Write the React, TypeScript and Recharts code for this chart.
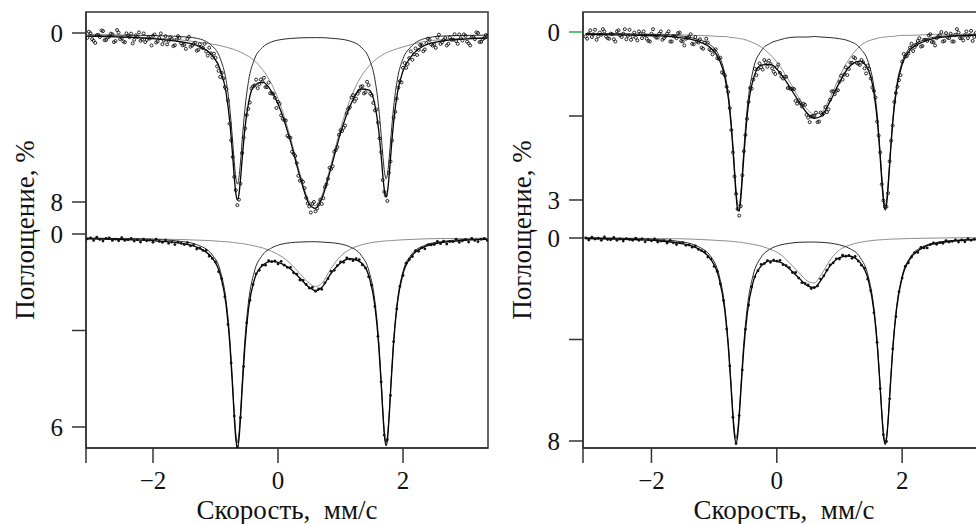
import React from 'react';
import { ComposedChart, Line, XAxis, YAxis, ReferenceArea } from 'recharts';

// Velocity grid (mm/s) for the fitted curves
const CV = [-3.05, -2.6, -2.2, -1.85, -1.55, -1.3, -1.05, -0.92, -0.83, -0.77, -0.73, -0.7, -0.675, -0.65, -0.625, -0.6, -0.57, -0.53, -0.47, -0.38, -0.25, -0.1, 0.05, 0.2, 0.35, 0.5, 0.6, 0.7, 0.85, 1.0, 1.15, 1.33, 1.46, 1.55, 1.61, 1.65, 1.68, 1.705, 1.73, 1.755, 1.78, 1.81, 1.85, 1.91, 2.0, 2.13, 2.35, 2.6, 2.9, 3.35];

// Velocity channels (mm/s) of the measured points
const DV = [-3.05, -3, -2.95, -2.9, -2.85, -2.8, -2.75, -2.7, -2.65, -2.6, -2.55, -2.5, -2.45, -2.4, -2.35, -2.3, -2.25, -2.2, -2.15, -2.1, -2.05, -2, -1.95, -1.9, -1.85, -1.8, -1.75, -1.7, -1.65, -1.6, -1.55, -1.5, -1.45, -1.4, -1.35, -1.3, -1.25, -1.2, -1.15, -1.1, -1.05, -1, -0.95, -0.9, -0.85, -0.8, -0.75, -0.7, -0.65, -0.6, -0.55, -0.5, -0.45, -0.4, -0.35, -0.3, -0.25, -0.2, -0.15, -0.1, -0.05, 0, 0.05, 0.1, 0.15, 0.2, 0.25, 0.3, 0.35, 0.4, 0.45, 0.5, 0.55, 0.6, 0.65, 0.7, 0.75, 0.8, 0.85, 0.9, 0.95, 1, 1.05, 1.1, 1.15, 1.2, 1.25, 1.3, 1.35, 1.4, 1.45, 1.5, 1.55, 1.6, 1.65, 1.7, 1.75, 1.8, 1.85, 1.9, 1.95, 2, 2.05, 2.1, 2.15, 2.2, 2.25, 2.3, 2.35, 2.4, 2.45, 2.5, 2.55, 2.6, 2.65, 2.7, 2.75, 2.8, 2.85, 2.9, 2.95, 3, 3.05, 3.1, 3.15, 3.2, 3.25, 3.3, 3.35];
const DV2 = [-3.025, -2.975, -2.925, -2.875, -2.825, -2.775, -2.725, -2.675, -2.625, -2.575, -2.525, -2.475, -2.425, -2.375, -2.325, -2.275, -2.225, -2.175, -2.125, -2.075, -2.025, -1.975, -1.925, -1.875, -1.825, -1.775, -1.725, -1.675, -1.625, -1.575, -1.525, -1.475, -1.425, -1.375, -1.325, -1.275, -1.225, -1.175, -1.125, -1.075, -1.025, -0.975, -0.925, -0.875, -0.825, -0.775, -0.725, -0.675, -0.625, -0.575, -0.525, -0.475, -0.425, -0.375, -0.325, -0.275, -0.225, -0.175, -0.125, -0.075, -0.025, 0.025, 0.075, 0.125, 0.175, 0.225, 0.275, 0.325, 0.375, 0.425, 0.475, 0.525, 0.575, 0.625, 0.675, 0.725, 0.775, 0.825, 0.875, 0.925, 0.975, 1.025, 1.075, 1.125, 1.175, 1.225, 1.275, 1.325, 1.375, 1.425, 1.475, 1.525, 1.575, 1.625, 1.675, 1.725, 1.775, 1.825, 1.875, 1.925, 1.975, 2.025, 2.075, 2.125, 2.175, 2.225, 2.275, 2.325, 2.375, 2.425, 2.475, 2.525, 2.575, 2.625, 2.675, 2.725, 2.775, 2.825, 2.875, 2.925, 2.975, 3.025, 3.075, 3.125, 3.175, 3.225, 3.275, 3.325];

// ---- Top-left spectrum (absorption, %) ----
const TL_A = [0.09, 0.10, 0.11, 0.13, 0.17, 0.25, 0.62, 1.24, 2.25, 3.62, 4.97, 6.11, 6.85, 7.15, 6.85, 6.11, 4.97, 3.62, 2.25, 1.26, 0.69, 0.42, 0.31, 0.26, 0.23, 0.22, 0.22, 0.22, 0.25, 0.29, 0.38, 0.67, 1.23, 2.19, 3.50, 4.81, 5.89, 6.61, 6.90, 6.61, 5.89, 4.81, 3.50, 2.19, 1.22, 0.65, 0.26, 0.15, 0.12, 0.10];
const TL_B = [0.13, 0.16, 0.20, 0.26, 0.33, 0.42, 0.53, 0.60, 0.67, 0.72, 0.75, 0.79, 0.81, 0.84, 0.87, 0.90, 0.94, 1.01, 1.11, 1.31, 1.72, 2.43, 3.50, 4.96, 6.64, 7.96, 8.17, 7.70, 6.19, 4.53, 3.18, 2.06, 1.55, 1.29, 1.15, 1.08, 1.02, 0.98, 0.94, 0.91, 0.88, 0.84, 0.80, 0.74, 0.66, 0.55, 0.40, 0.32, 0.26, 0.22];
const TL_T = [0.15, 0.18, 0.23, 0.31, 0.42, 0.59, 1.07, 1.76, 2.84, 4.25, 5.64, 6.81, 7.58, 7.91, 7.64, 6.93, 5.84, 4.54, 3.28, 2.49, 2.33, 2.78, 3.73, 5.13, 6.79, 8.10, 8.30, 7.84, 6.36, 4.74, 3.48, 2.65, 2.70, 3.40, 4.58, 5.80, 6.84, 7.51, 7.76, 7.44, 6.69, 5.56, 4.22, 2.85, 1.80, 1.12, 0.58, 0.39, 0.30, 0.24];
const TL_D = [0.23, 0.01, 0.37, 0.10, 0.19, -0.09, 0.33, 0.17, 0.06, 0.38, -0.02, 0.24, 0.44, 0.12, 0.03, 0.32, 0.19, 0.37, 0.02, 0.33, 0.26, 0.13, 0.45, 0.23, 0.53, 0.15, 0.37, 0.28, 0.58, 0.15, 0.48, 0.56, 0.28, 0.65, 0.52, 0.84, 0.53, 0.71, 0.88, 0.70, 1.16, 1.17, 1.79, 1.89, 2.56, 3.20, 5.08, 6.81, 8.15, 7.13, 4.95, 3.88, 3.29, 2.53, 2.21, 2.42, 2.30, 2.56, 2.35, 2.86, 3.07, 3.26, 3.90, 4.13, 4.87, 4.96, 5.72, 6.16, 6.99, 7.05, 7.80, 8.21, 8.09, 8.44, 8.12, 8.09, 7.30, 6.90, 6.44, 5.62, 5.40, 4.60, 4.49, 3.80, 3.51, 2.94, 3.11, 2.73, 2.52, 2.81, 2.47, 2.95, 3.66, 4.24, 5.64, 7.52, 7.95, 6.08, 4.00, 3.11, 2.28, 1.65, 1.65, 1.19, 1.27, 0.73, 0.80, 0.57, 0.78, 0.27, 0.54, 0.55, 0.21, 0.52, 0.33, 0.59, 0.21, 0.31, 0.38, 0.07, 0.36, 0.13, 0.49, 0.20, 0.29, 0.00, 0.42, 0.24, 0.13];
const TL_D2 = [-0.06, 0.29, 0.47, 0.09, -0.12, 0.34, 0.21, 0.03, 0.43, -0.14, 0.29, 0.40, 0.02, 0.20, 0.49, 0.11, -0.03, 0.31, 0.43, 0.22, 0.59, 0.07, 0.40, 0.02, 0.36, 0.54, 0.21, 0.62, 0.32, 0.23, 0.58, 0.75, 0.18, 0.60, 0.46, 0.80, 0.68, 0.51, 1.07, 0.96, 0.98, 1.58, 2.08, 2.15, 2.66, 4.29, 5.87, 7.44, 7.89, 5.68, 4.52, 3.59, 2.62, 2.48, 2.61, 2.20, 2.12, 2.56, 2.85, 2.88, 3.55, 3.35, 4.06, 4.14, 4.93, 5.62, 5.82, 6.76, 6.97, 7.34, 8.06, 8.50, 8.00, 8.31, 7.90, 7.82, 7.16, 6.38, 6.31, 5.54, 4.82, 4.64, 4.38, 3.60, 3.05, 3.24, 2.87, 2.54, 2.86, 2.31, 2.87, 3.31, 3.62, 4.99, 6.96, 7.69, 6.61, 5.09, 3.73, 2.59, 2.34, 1.42, 1.47, 0.87, 1.01, 1.04, 0.57, 0.86, 0.48, 0.32, 0.60, 0.70, 0.08, 0.44, 0.24, 0.51, 0.32, 0.06, 0.51, 0.25, 0.07, 0.41, 0.59, 0.19, -0.03, 0.43, 0.29, 0.10];

// ---- Bottom-left spectrum ----
const BL_A = [0.13, 0.14, 0.15, 0.18, 0.23, 0.33, 0.65, 1.17, 2.08, 3.30, 4.52, 5.54, 6.21, 6.48, 6.21, 5.54, 4.52, 3.30, 2.08, 1.18, 0.66, 0.43, 0.32, 0.27, 0.25, 0.24, 0.24, 0.25, 0.27, 0.31, 0.40, 0.66, 1.18, 2.08, 3.30, 4.52, 5.54, 6.21, 6.48, 6.21, 5.54, 4.52, 3.30, 2.08, 1.17, 0.65, 0.35, 0.24, 0.18, 0.15];
const BL_B = [0.13, 0.14, 0.15, 0.16, 0.17, 0.19, 0.21, 0.23, 0.24, 0.25, 0.26, 0.27, 0.27, 0.28, 0.29, 0.29, 0.30, 0.31, 0.33, 0.37, 0.43, 0.54, 0.69, 0.92, 1.23, 1.53, 1.63, 1.53, 1.07, 0.69, 0.48, 0.34, 0.28, 0.25, 0.24, 0.23, 0.22, 0.22, 0.21, 0.21, 0.21, 0.20, 0.20, 0.19, 0.18, 0.17, 0.15, 0.14, 0.14, 0.13];
const BL_T = [0.15, 0.17, 0.19, 0.23, 0.29, 0.41, 0.75, 1.29, 2.21, 3.44, 4.67, 5.69, 6.37, 6.65, 6.39, 5.72, 4.71, 3.51, 2.30, 1.43, 0.98, 0.85, 0.91, 1.09, 1.37, 1.66, 1.76, 1.66, 1.22, 0.90, 0.77, 0.89, 1.35, 2.23, 3.43, 4.64, 5.65, 6.32, 6.58, 6.31, 5.63, 4.61, 3.39, 2.16, 1.24, 0.71, 0.39, 0.27, 0.21, 0.17];
const BL_D = [0.15, 0.12, 0.20, 0.10, 0.17, 0.22, 0.14, 0.12, 0.20, 0.16, 0.21, 0.11, 0.20, 0.18, 0.14, 0.22, 0.18, 0.25, 0.16, 0.21, 0.19, 0.26, 0.16, 0.23, 0.26, 0.19, 0.29, 0.25, 0.33, 0.25, 0.29, 0.33, 0.27, 0.37, 0.34, 0.47, 0.44, 0.51, 0.51, 0.69, 0.76, 0.87, 1.17, 1.39, 1.95, 2.81, 4.01, 5.66, 6.62, 5.71, 4.12, 2.76, 2.06, 1.57, 1.24, 1.13, 0.97, 0.97, 0.83, 0.86, 0.84, 0.93, 0.85, 0.97, 1.04, 1.04, 1.21, 1.25, 1.43, 1.44, 1.57, 1.68, 1.66, 1.78, 1.71, 1.72, 1.52, 1.39, 1.16, 1.13, 0.98, 0.87, 0.88, 0.74, 0.78, 0.83, 0.77, 0.80, 0.96, 1.06, 1.33, 1.59, 2.25, 3.18, 4.60, 6.25, 6.40, 5.02, 3.35, 2.33, 1.63, 1.29, 0.91, 0.80, 0.70, 0.52, 0.54, 0.43, 0.46, 0.34, 0.34, 0.33, 0.23, 0.30, 0.22, 0.31, 0.23, 0.24, 0.16, 0.26, 0.21, 0.17, 0.25, 0.14, 0.20, 0.24, 0.16, 0.14, 0.20];

// ---- Top-right spectrum ----
const TR_A = [0.03, 0.03, 0.04, 0.05, 0.07, 0.12, 0.24, 0.43, 0.74, 1.14, 1.58, 2.01, 2.42, 2.82, 3.08, 3.11, 2.82, 2.17, 1.34, 0.69, 0.34, 0.20, 0.14, 0.10, 0.09, 0.09, 0.08, 0.09, 0.10, 0.12, 0.16, 0.29, 0.54, 0.98, 1.57, 2.16, 2.65, 2.98, 3.11, 2.98, 2.65, 2.16, 1.57, 0.98, 0.54, 0.28, 0.14, 0.08, 0.06, 0.04];
const TR_B = [0.03, 0.03, 0.04, 0.04, 0.05, 0.06, 0.07, 0.08, 0.08, 0.09, 0.10, 0.10, 0.10, 0.11, 0.11, 0.12, 0.12, 0.13, 0.15, 0.19, 0.27, 0.41, 0.61, 0.88, 1.17, 1.40, 1.47, 1.44, 1.17, 0.80, 0.49, 0.25, 0.16, 0.13, 0.11, 0.10, 0.10, 0.09, 0.09, 0.09, 0.08, 0.08, 0.08, 0.07, 0.06, 0.06, 0.05, 0.04, 0.04, 0.03];
const TR_T = [0.04, 0.05, 0.06, 0.07, 0.10, 0.15, 0.29, 0.49, 0.80, 1.21, 1.65, 2.09, 2.51, 2.91, 3.17, 3.20, 2.92, 2.29, 1.47, 0.86, 0.59, 0.58, 0.73, 0.97, 1.24, 1.47, 1.54, 1.51, 1.24, 0.90, 0.63, 0.52, 0.68, 1.09, 1.66, 2.24, 2.73, 3.05, 3.18, 3.05, 2.72, 2.22, 1.62, 1.03, 0.58, 0.32, 0.17, 0.10, 0.07, 0.05];
const TR_D = [0.08, 0.03, 0.09, -0.04, 0.08, 0.05, -0.01, 0.11, 0.03, 0.13, -0.01, 0.06, 0.03, 0.13, -0.04, 0.08, 0.10, -0.01, 0.11, 0.06, 0.16, 0.03, 0.07, 0.10, -0.01, 0.11, 0.03, 0.17, 0.07, 0.11, 0.01, 0.17, 0.12, 0.09, 0.21, 0.09, 0.19, 0.28, 0.19, 0.19, 0.33, 0.33, 0.47, 0.46, 0.74, 0.98, 1.36, 2.15, 2.89, 3.28, 2.56, 1.84, 1.25, 1.01, 0.66, 0.66, 0.63, 0.50, 0.62, 0.57, 0.71, 0.63, 0.73, 0.83, 0.80, 1.00, 1.01, 1.23, 1.22, 1.33, 1.30, 1.53, 1.51, 1.50, 1.61, 1.44, 1.45, 1.43, 1.21, 1.06, 1.05, 0.89, 0.85, 0.63, 0.66, 0.55, 0.47, 0.57, 0.50, 0.65, 0.60, 0.83, 1.05, 1.60, 2.15, 3.01, 3.12, 2.31, 1.67, 1.09, 0.86, 0.53, 0.44, 0.38, 0.21, 0.27, 0.16, 0.26, 0.14, 0.16, 0.04, 0.18, 0.11, 0.06, 0.17, 0.02, 0.11, 0.17, 0.05, 0.01, 0.11, 0.06, 0.11, -0.02, 0.09, 0.06, 0.00, 0.11, 0.03];
const TR_D2 = [0.12, -0.03, 0.04, 0.14, 0.01, -0.05, 0.08, 0.12, 0.04, 0.17, -0.03, 0.09, -0.05, 0.07, 0.14, 0.01, 0.15, 0.03, -0.01, 0.12, 0.17, -0.05, 0.10, 0.03, 0.14, 0.08, -0.01, 0.17, 0.08, 0.02, 0.16, 0.24, 0.10, 0.04, 0.22, 0.17, 0.13, 0.30, 0.12, 0.31, 0.40, 0.31, 0.48, 0.72, 0.78, 1.07, 1.75, 2.58, 3.16, 3.11, 2.13, 1.55, 1.00, 0.85, 0.77, 0.56, 0.67, 0.54, 0.51, 0.65, 0.75, 0.58, 0.80, 0.80, 1.00, 1.02, 1.02, 1.28, 1.27, 1.28, 1.48, 1.61, 1.50, 1.44, 1.60, 1.48, 1.34, 1.38, 1.06, 1.11, 1.04, 0.78, 0.76, 0.77, 0.55, 0.45, 0.55, 0.59, 0.54, 0.74, 0.66, 0.99, 1.17, 1.85, 2.72, 3.12, 2.88, 1.94, 1.25, 0.98, 0.77, 0.39, 0.43, 0.28, 0.34, 0.23, 0.11, 0.25, 0.14, 0.06, 0.18, 0.24, 0.08, 0.00, 0.16, 0.10, 0.03, 0.17, -0.05, 0.11, 0.15, -0.01, 0.06, 0.16, 0.02, -0.04, 0.08, 0.12];

// ---- Bottom-right spectrum ----
const BR_A = [0.00, 0.01, 0.03, 0.07, 0.14, 0.29, 0.74, 1.47, 2.70, 4.26, 5.72, 6.88, 7.61, 7.89, 7.61, 6.88, 5.72, 4.26, 2.71, 1.49, 0.76, 0.43, 0.28, 0.21, 0.17, 0.16, 0.16, 0.17, 0.20, 0.27, 0.40, 0.77, 1.51, 2.76, 4.34, 5.83, 7.01, 7.75, 8.04, 7.75, 7.01, 5.83, 4.34, 2.75, 1.50, 0.76, 0.32, 0.16, 0.08, 0.03];
const BR_B = [-0.01, 0.00, 0.01, 0.02, 0.03, 0.05, 0.08, 0.10, 0.11, 0.12, 0.13, 0.14, 0.14, 0.15, 0.16, 0.16, 0.17, 0.19, 0.21, 0.25, 0.32, 0.45, 0.63, 0.97, 1.36, 1.71, 1.77, 1.48, 0.87, 0.47, 0.29, 0.17, 0.12, 0.09, 0.08, 0.07, 0.07, 0.06, 0.06, 0.06, 0.05, 0.05, 0.04, 0.04, 0.03, 0.02, 0.01, 0.00, -0.01, -0.01];
const BR_T = [0.02, 0.04, 0.07, 0.12, 0.21, 0.37, 0.85, 1.60, 2.84, 4.41, 5.88, 7.04, 7.78, 8.07, 7.80, 7.07, 5.93, 4.48, 2.95, 1.76, 1.11, 0.90, 0.95, 1.21, 1.57, 1.90, 1.96, 1.68, 1.10, 0.77, 0.71, 0.97, 1.66, 2.88, 4.45, 5.93, 7.10, 7.85, 8.13, 7.84, 7.09, 5.91, 4.41, 2.82, 1.56, 0.81, 0.36, 0.19, 0.10, 0.05];
const BR_D = [0.00, 0.08, -0.03, 0.04, 0.01, 0.09, -0.04, 0.06, 0.07, -0.02, 0.09, 0.04, 0.12, 0.03, 0.06, 0.09, 0.01, 0.09, 0.04, 0.15, 0.07, 0.11, 0.04, 0.16, 0.12, 0.10, 0.20, 0.09, 0.19, 0.26, 0.19, 0.18, 0.29, 0.28, 0.36, 0.31, 0.45, 0.50, 0.55, 0.75, 0.83, 1.12, 1.31, 1.81, 2.46, 3.59, 5.04, 7.06, 8.10, 7.00, 5.20, 3.60, 2.65, 1.92, 1.53, 1.29, 1.04, 1.01, 0.89, 0.96, 0.87, 0.91, 0.88, 1.05, 1.09, 1.17, 1.36, 1.36, 1.58, 1.76, 1.79, 1.85, 1.99, 1.95, 1.89, 1.62, 1.49, 1.27, 1.06, 0.98, 0.82, 0.83, 0.68, 0.72, 0.69, 0.80, 0.73, 0.91, 1.07, 1.19, 1.62, 2.08, 2.95, 4.11, 5.94, 7.75, 8.02, 6.34, 4.37, 3.10, 2.12, 1.58, 1.12, 0.98, 0.75, 0.58, 0.57, 0.37, 0.39, 0.39, 0.26, 0.19, 0.25, 0.18, 0.21, 0.10, 0.16, 0.13, 0.08, 0.16, 0.08, 0.15, 0.03, 0.09, 0.05, 0.12, -0.01, 0.07, 0.08];

// Tick values
const X_TICKS = [-2, 0, 2];
const LT_TICKS = [0, 8];
const LB_TICKS = [0, 3, 6];
const RT_TICKS = [0, 1.5, 3];
const RB_TICKS = [0, 4, 8];

const X_TITLE = 'Скорость,\u00a0\u00a0мм/с';
const Y_TITLE = 'Поглощение, %';

const FONT = '"Liberation Serif", "Times New Roman", Times, serif';
const AX = '#333';
const TICK_SIZE = 14;
const TICK_MARGIN = 9;
const H = 524;

const pts = (xs: number[], ys: number[]) => xs.map((x, i) => ({ x, y: ys[i] }));

type PanelCfg = { left: number; width: number; xDomain: [number, number] };
const LEFT: PanelCfg = { left: 0, width: 500, xDomain: [-3.072, 3.36] };
const RIGHT: PanelCfg = { left: 497, width: 503, xDomain: [-3.092, 3.37] };

const makeYTick = (shown: number[], colors: Record<string, string>) => (props: any) => {
  const { x, y, payload } = props;
  const v = payload.value;
  const axisX = x + TICK_MARGIN + TICK_SIZE;
  const col = colors[String(v)] || AX;
  return (
    <g>
      <line x1={axisX - TICK_SIZE} x2={axisX} y1={y} y2={y} stroke={col} strokeWidth={1.5} />
      <text x={x} y={y} dy="0.35em" textAnchor="end" fontSize={25} fontFamily={FONT} fill="#111">
        {shown.includes(v) ? String(v) : ''}
      </text>
    </g>
  );
};

const xFmt = (v: number) => (v < -2.5 ? '' : v < 0 ? '\u2212' + Math.abs(v) : String(v));

type SpecProps = {
  panel: PanelCfg;
  yDomain: [number, number];
  yTicks: number[];
  yShown: number[];
  yColors?: Record<string, string>;
  A: number[];
  B: number[];
  T: number[];
  D: number[];
  D2?: number[];
  base: boolean;
  dot: any;
};

function Spectrum({ panel, yDomain, yTicks, yShown, yColors = {}, A, B, T, D, D2, base, dot }: SpecProps) {
  const xTicks = [panel.xDomain[0], ...X_TICKS];
  return (
    <div style={{ position: 'absolute', left: panel.left, top: 0 }}>
      <ComposedChart width={panel.width} height={H} margin={{ top: 12, right: 12, bottom: 0, left: 0 }}>
        <XAxis
          type="number"
          dataKey="x"
          domain={panel.xDomain}
          allowDataOverflow
          ticks={xTicks}
          interval={0}
          height={76}
          tickSize={15}
          tickMargin={8}
          tickFormatter={xFmt}
          axisLine={base ? { stroke: AX, strokeWidth: 1.5 } : false}
          tickLine={base ? { stroke: AX, strokeWidth: 1.5 } : false}
          tick={base ? { fontSize: 25, fontFamily: FONT, fill: '#111' } : false}
          label={
            base
              ? {
                  content: () => (
                    <text x={287} y={519} textAnchor="middle" fontSize={27} fontFamily={FONT} fill="#111">
                      {X_TITLE}
                    </text>
                  ),
                }
              : undefined
          }
        />
        <YAxis
          type="number"
          dataKey="y"
          domain={yDomain}
          reversed
          allowDataOverflow
          ticks={yTicks}
          interval={0}
          width={86}
          tickSize={TICK_SIZE}
          tickMargin={TICK_MARGIN}
          tickLine={false}
          axisLine={base ? { stroke: AX, strokeWidth: 1.5 } : false}
          tick={makeYTick(yShown, yColors)}
          label={
            base
              ? {
                  content: () => (
                    <text
                      x={34}
                      y={230}
                      transform="rotate(-90 34 230)"
                      textAnchor="middle"
                      fontSize={27}
                      fontFamily={FONT}
                      fill="#111"
                    >
                      {Y_TITLE}
                    </text>
                  ),
                }
              : undefined
          }
        />
        {base && (
          <ReferenceArea
            x1={panel.xDomain[0]}
            x2={panel.xDomain[1]}
            y1={yDomain[0]}
            y2={yDomain[1]}
            fill="none"
            fillOpacity={0}
            stroke={AX}
            strokeWidth={1.5}
            ifOverflow="visible"
          />
        )}
        <Line data={pts(CV, B)} dataKey="y" type="monotone" stroke="#8e8e8e" strokeWidth={1} dot={false} isAnimationActive={false} />
        <Line data={pts(CV, A)} dataKey="y" type="monotone" stroke="#2a2a2a" strokeWidth={1} dot={false} isAnimationActive={false} />
        <Line data={pts(DV, D)} dataKey="y" stroke="none" dot={dot} activeDot={false} isAnimationActive={false} />
        {D2 && <Line data={pts(DV2, D2)} dataKey="y" stroke="none" dot={dot} activeDot={false} isAnimationActive={false} />}
        <Line data={pts(CV, T)} dataKey="y" type="monotone" stroke="#000" strokeWidth={1.3} dot={false} isAnimationActive={false} />
      </ComposedChart>
    </div>
  );
}

const OPEN_DOT = { r: 1.5, fill: 'none', stroke: '#111', strokeWidth: 0.9 };
const FILL_DOT = { r: 1.4, fill: '#111', stroke: 'none' };

export default function App() {
  return (
    <div
      style={{
        position: 'absolute',
        left: 0,
        top: 0,
        width: 976,
        height: 524,
        overflow: 'hidden',
        background: '#fff',
      }}
    >
      <Spectrum panel={LEFT} yDomain={[-6.902, 6.653]} yTicks={LB_TICKS} yShown={[0, 6]} A={BL_A} B={BL_B} T={BL_T} D={BL_D} base dot={FILL_DOT} />
      <Spectrum panel={LEFT} yDomain={[-0.994, 19.645]} yTicks={LT_TICKS} yShown={[0, 8]} A={TL_A} B={TL_B} T={TL_T} D={TL_D} D2={TL_D2} base={false} dot={OPEN_DOT} />
      <Spectrum panel={RIGHT} yDomain={[-8.906, 8.276]} yTicks={RB_TICKS} yShown={[0, 8]} A={BR_A} B={BR_B} T={BR_T} D={BR_D} base dot={FILL_DOT} />
      <Spectrum panel={RIGHT} yDomain={[-0.357, 7.429]} yTicks={RT_TICKS} yShown={[0, 3]} yColors={{ '0': '#2ea84e' }} A={TR_A} B={TR_B} T={TR_T} D={TR_D} D2={TR_D2} base={false} dot={OPEN_DOT} />
    </div>
  );
}
